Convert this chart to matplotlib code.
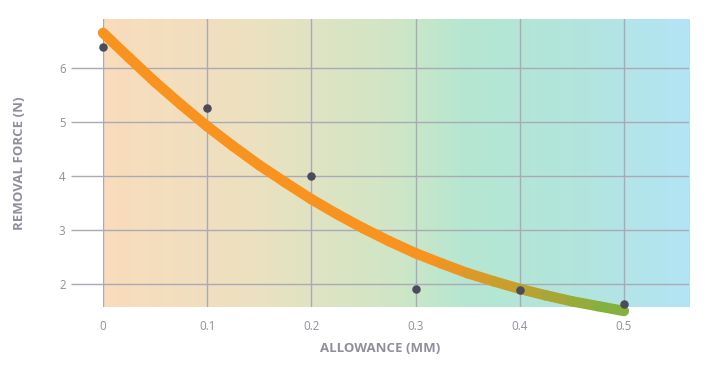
import numpy as np
import matplotlib
matplotlib.use("Agg")
import matplotlib.pyplot as plt
from matplotlib.colors import LinearSegmentedColormap, to_rgb
from matplotlib.collections import LineCollection

# measured points
allowance = [0.0, 0.1, 0.2, 0.3, 0.4, 0.5]
force = [6.39, 5.26, 4.0, 1.91, 1.89, 1.63]

# trend curve
curve_x = [0.0, 0.025, 0.05, 0.075, 0.1, 0.125, 0.15, 0.175, 0.2, 0.225, 0.25,
           0.275, 0.3, 0.325, 0.35, 0.375, 0.4, 0.425, 0.45, 0.475, 0.5]
curve_y = [6.65, 6.19, 5.74, 5.32, 4.92, 4.55, 4.20, 3.88, 3.57, 3.29, 3.03,
           2.79, 2.57, 2.38, 2.20, 2.05, 1.91, 1.79, 1.68, 1.59, 1.50]

xticks = [0, 0.1, 0.2, 0.3, 0.4, 0.5]
xtick_labels = ["0", "0.1", "0.2", "0.3", "0.4", "0.5"]
yticks = [2, 3, 4, 5, 6]

grid_col = "#aaaab6"
text_col = "#8f8f9c"

fig = plt.figure(figsize=(7.1, 3.75), dpi=100)
ax = fig.add_axes([0.1451, 0.1813, 0.8254, 0.768])
xmin, xmax = 0, 0.5625
ymin, ymax = 1.574, 6.907
ax.set_xlim(xmin, xmax)
ax.set_ylim(ymin, ymax)

# background gradient
bg = LinearSegmentedColormap.from_list("bg", [
    (0.0, "#f9dcbc"),
    (0.25, "#ece1c0"),
    (0.5, "#cfe6c6"),
    (0.62, "#b5e7d2"),
    (0.8, "#b2e5dc"),
    (1.0, "#b3e4f6"),
])
ax.imshow(np.linspace(0, 1, 256).reshape(1, -1), cmap=bg, aspect="auto",
          extent=[xmin, xmax, ymin, ymax], zorder=0)

for s in ax.spines.values():
    s.set_visible(False)

ax.set_xticks(xticks)
ax.set_xticklabels(xtick_labels)
ax.set_yticks(yticks)
ax.grid(True, color=grid_col, linewidth=1, zorder=1)
ax.set_axisbelow(False)
ax.tick_params(axis="y", length=23, width=1, color=grid_col, pad=4,
               labelsize=8.3, labelcolor=text_col)
ax.tick_params(axis="x", length=0, pad=9, labelsize=8.3, labelcolor=text_col)
for lab in ax.get_xticklabels() + ax.get_yticklabels():
    lab.set_family("Open Sans")

# gradient-coloured curve
orange = np.array(to_rgb("#f7931e"))
green = np.array(to_rgb("#7bb243"))
cx = np.array(curve_x)
cy = np.array(curve_y)
pts = np.column_stack([cx, cy]).reshape(-1, 1, 2)
segs = np.concatenate([pts[:-1], pts[1:]], axis=1)
mid = (cx[:-1] + cx[1:]) / 2
t = np.clip((mid - 0.32) / 0.18, 0, 1)
cols = [tuple(orange * (1 - v) + green * v) for v in t]
lc = LineCollection(segs, colors=cols, linewidths=7.5, capstyle="round",
                    joinstyle="round", zorder=3, clip_on=False)
ax.add_collection(lc)

ax.scatter(allowance, force, s=26, color="#4b4b5a", zorder=4, clip_on=False)

ax.text(0.473, -0.145, "ALLOWANCE (MM)", transform=ax.transAxes, ha="center",
        va="center", fontsize=9.5, fontweight="bold", color=text_col,
        family="Open Sans")
ax.text(-0.142, 0.5, "REMOVAL FORCE (N)", transform=ax.transAxes, ha="center",
        va="center", rotation=90, fontsize=9.5, fontweight="bold",
        color=text_col, family="Open Sans")

fig.savefig("out.png", dpi=100)
